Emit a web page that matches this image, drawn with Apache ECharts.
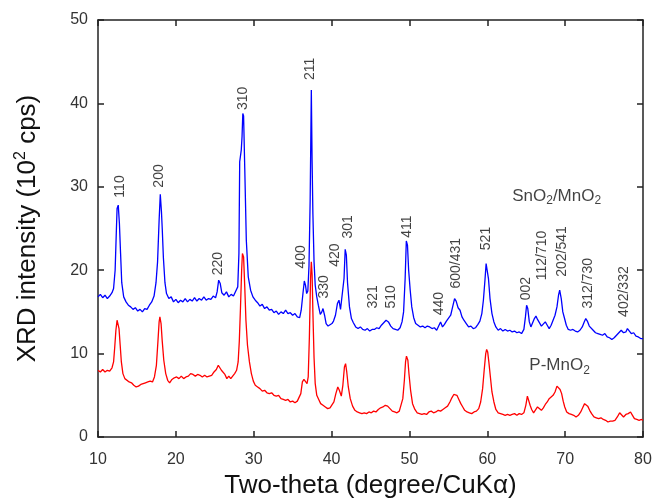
<!DOCTYPE html>
<html>
<head>
<meta charset="utf-8">
<title>XRD patterns</title>
<script src="https://cdn.jsdelivr.net/npm/echarts@6/dist/echarts.min.js"></script>
<style>
  html, body { margin: 0; padding: 0; background: #fff; }
  #chart { width: 653px; height: 500px; }
</style>
</head>
<body>
<div id="chart"></div>
<script>
// XRD 图谱数据 [2θ, 强度/10^2 cps]
const snoMnoPattern = [
  [10.0,16.8],[10.3,17.1],[10.6,16.7],[10.9,17.0],[11.2,16.6],[11.5,16.9],[11.8,17.3],[12.0,17.8],[12.2,20.0],[12.35,24.5],
  [12.45,27.4],[12.6,27.8],[12.75,25.6],[12.9,22.0],[13.05,18.5],[13.3,16.8],[13.6,16.2],[13.9,15.8],[14.2,15.6],[14.5,15.3],
  [14.8,15.5],[15.1,15.1],[15.4,15.3],[15.7,15.0],[16.0,15.4],[16.3,15.3],[16.6,15.8],[16.9,16.2],[17.2,16.9],[17.45,18.5],
  [17.65,21.0],[17.85,26.0],[18.0,29.1],[18.15,27.0],[18.25,25.0],[18.4,21.5],[18.6,18.5],[18.8,17.2],[19.1,16.6],[19.4,16.8],
  [19.7,16.2],[20.0,16.5],[20.3,16.1],[20.6,16.4],[20.9,16.2],[21.2,16.6],[21.5,16.2],[21.8,16.5],[22.1,16.3],[22.4,16.7],
  [22.7,16.3],[23.0,16.6],[23.3,16.4],[23.6,16.8],[23.9,16.4],[24.2,16.6],[24.5,16.5],[24.8,16.9],[25.1,16.7],[25.3,17.4],
  [25.5,18.8],[25.7,18.4],[25.9,17.3],[26.2,17.0],[26.5,17.4],[26.8,16.8],[27.1,17.1],[27.4,16.9],[27.7,17.5],[27.95,18.0],
  [28.1,22.0],[28.2,33.0],[28.4,34.4],[28.5,36.0],[28.6,38.8],[28.7,38.5],[28.85,32.2],[29.05,23.6],[29.3,19.2],[29.6,17.6],
  [29.9,16.8],[30.2,16.4],[30.5,16.1],[30.8,15.7],[31.1,15.9],[31.4,15.4],[31.7,15.6],[32.0,15.2],[32.3,15.3],[32.6,14.9],
  [32.9,15.1],[33.2,14.7],[33.5,15.0],[33.8,14.8],[34.1,15.2],[34.4,14.8],[34.7,14.9],[35.0,14.6],[35.3,14.8],[35.6,14.4],
  [35.9,14.3],[36.1,15.2],[36.3,17.0],[36.5,18.7],[36.65,18.2],[36.8,17.2],[36.95,17.5],[37.1,20.5],[37.25,28.4],[37.4,41.6],
  [37.5,33.0],[37.6,26.8],[37.75,21.0],[37.9,18.2],[38.1,16.8],[38.3,15.8],[38.55,14.7],[38.75,15.0],[38.9,15.4],[39.1,14.6],
  [39.3,13.6],[39.55,13.3],[39.8,13.5],[40.05,13.6],[40.25,13.9],[40.5,14.6],[40.75,16.0],[40.95,16.4],[41.15,15.3],[41.4,15.4],
  [41.6,19.0],[41.75,22.5],[41.9,21.8],[42.05,18.5],[42.3,15.6],[42.55,14.2],[42.8,13.7],[43.1,13.2],[43.4,13.0],[43.7,13.2],
  [44.0,12.9],[44.3,12.8],[44.6,13.0],[44.9,12.7],[45.2,12.9],[45.5,12.9],[45.8,13.1],[46.1,13.0],[46.4,13.4],[46.7,13.7],
  [47.0,14.0],[47.3,13.8],[47.6,13.3],[47.9,13.0],[48.2,12.9],[48.5,12.8],[48.8,13.1],[49.05,13.8],[49.25,15.0],[49.45,19.0],
  [49.6,23.5],[49.75,23.0],[49.9,20.0],[50.1,17.6],[50.3,15.6],[50.55,14.3],[50.8,13.6],[51.1,13.4],[51.4,13.2],[51.7,13.3],
  [52.0,13.1],[52.3,13.3],[52.6,13.2],[52.9,13.0],[53.2,13.1],[53.5,12.8],[53.8,13.4],[54.0,13.8],[54.25,13.2],[54.5,13.5],
  [54.75,13.9],[55.0,14.0],[55.3,14.6],[55.55,15.6],[55.8,16.6],[56.0,16.3],[56.25,15.5],[56.5,15.2],[56.75,14.4],[57.0,14.0],
  [57.3,13.6],[57.6,13.2],[57.9,13.3],[58.2,13.0],[58.5,13.1],[58.8,13.5],[59.05,13.9],[59.3,14.8],[59.5,16.4],[59.7,18.8],
  [59.85,20.8],[60.0,20.6],[60.15,19.0],[60.35,16.6],[60.6,14.8],[60.85,13.8],[61.1,13.2],[61.4,12.8],[61.7,13.0],[62.0,12.7],
  [62.3,12.9],[62.6,12.7],[62.9,12.8],[63.2,12.6],[63.5,12.7],[63.8,12.5],[64.1,12.6],[64.4,12.4],[64.7,12.9],[64.9,14.4],
  [65.05,15.8],[65.2,15.4],[65.4,13.8],[65.6,13.2],[65.85,13.4],[66.05,14.2],[66.25,14.5],[66.45,14.1],[66.7,14.0],[66.95,13.3],
  [67.2,13.5],[67.45,13.8],[67.7,13.4],[67.95,13.0],[68.2,13.4],[68.45,14.0],[68.7,14.6],[68.95,15.6],[69.15,17.0],[69.3,17.6],
  [69.5,16.6],[69.7,15.0],[69.9,14.3],[70.15,13.4],[70.4,12.9],[70.7,12.8],[71.0,12.9],[71.3,12.7],[71.6,12.6],[71.9,12.8],
  [72.2,13.2],[72.45,13.8],[72.65,14.2],[72.85,13.9],[73.1,13.3],[73.35,13.2],[73.6,12.8],[73.9,12.5],[74.2,12.4],[74.5,12.3],
  [74.8,12.2],[75.1,12.4],[75.4,12.0],[75.7,11.9],[76.0,11.7],[76.3,11.9],[76.6,12.2],[76.9,12.5],[77.2,12.8],[77.5,12.5],
  [77.8,12.6],[78.0,13.0],[78.25,12.8],[78.5,12.4],[78.8,12.5],[79.1,12.1],[79.4,12.0],[79.7,11.8],[80.0,11.8]
]

const pMnoPattern = [
  [10.0,8.0],[10.3,7.8],[10.6,8.1],[10.9,7.8],[11.2,8.0],[11.5,7.9],[11.8,8.3],[12.0,9.0],[12.15,10.8],[12.3,12.8],
  [12.45,14.0],[12.55,14.1],[12.7,13.0],[12.85,11.0],[13.0,9.0],[13.2,7.6],[13.45,7.0],[13.7,6.9],[14.0,6.6],[14.3,6.5],
  [14.6,6.2],[14.9,6.0],[15.2,6.1],[15.5,6.3],[15.8,6.4],[16.1,6.5],[16.4,6.6],[16.7,6.7],[17.0,6.6],[17.25,7.2],
  [17.5,8.6],[17.7,11.5],[17.85,13.8],[17.95,14.4],[18.1,13.6],[18.25,11.5],[18.45,9.2],[18.7,7.6],[18.95,6.8],[19.2,6.5],
  [19.5,6.9],[19.8,7.1],[20.1,7.2],[20.4,7.0],[20.7,7.3],[21.0,7.0],[21.3,7.2],[21.6,7.3],[21.9,7.6],[22.2,7.5],
  [22.5,7.3],[22.8,7.5],[23.1,7.4],[23.4,7.2],[23.7,7.4],[24.0,7.2],[24.3,7.3],[24.6,7.4],[24.9,7.8],[25.2,8.1],
  [25.45,8.6],[25.65,8.5],[25.85,8.0],[26.05,8.1],[26.3,7.5],[26.55,7.0],[26.8,7.3],[27.05,7.0],[27.3,7.2],[27.55,7.6],
  [27.8,8.0],[28.0,9.0],[28.15,11.5],[28.3,15.5],[28.45,20.0],[28.55,22.0],[28.7,21.6],[28.85,18.0],[29.0,14.0],[29.2,11.0],
  [29.45,9.0],[29.7,7.6],[29.95,6.7],[30.2,6.2],[30.5,6.0],[30.8,5.8],[31.1,5.5],[31.4,5.6],[31.7,5.3],[32.0,5.2],
  [32.3,5.3],[32.6,5.0],[32.9,4.9],[33.2,5.0],[33.5,4.6],[33.8,4.5],[34.1,4.4],[34.4,4.5],[34.7,4.2],[35.0,4.3],
  [35.3,4.1],[35.6,4.3],[35.85,4.4],[36.05,5.2],[36.25,6.6],[36.45,6.9],[36.65,7.0],[36.85,6.4],[37.0,7.2],[37.15,12.0],
  [37.3,19.0],[37.4,21.0],[37.5,19.5],[37.6,15.0],[37.75,9.5],[37.9,6.4],[38.1,5.0],[38.35,4.5],[38.6,4.0],[38.9,3.8],
  [39.2,3.6],[39.5,3.4],[39.8,3.5],[40.05,3.6],[40.3,4.2],[40.55,5.2],[40.8,6.0],[41.0,5.6],[41.25,4.9],[41.45,6.2],
  [41.65,8.4],[41.8,8.8],[41.95,7.8],[42.15,6.0],[42.4,4.6],[42.7,3.7],[43.0,3.2],[43.3,3.0],[43.6,2.9],[43.9,2.8],
  [44.2,2.9],[44.5,2.8],[44.8,3.0],[45.1,2.9],[45.4,3.1],[45.7,3.0],[46.0,3.3],[46.3,3.5],[46.6,3.6],[46.9,3.8],
  [47.2,3.7],[47.5,3.4],[47.8,3.1],[48.1,3.0],[48.4,2.9],[48.7,3.1],[48.95,3.3],[49.15,4.6],[49.35,6.8],[49.5,9.0],
  [49.62,9.7],[49.8,9.2],[49.95,7.5],[50.15,5.6],[50.4,4.0],[50.7,3.3],[51.0,2.9],[51.3,2.8],[51.6,2.7],[51.9,2.8],
  [52.2,2.7],[52.5,3.0],[52.8,3.1],[53.1,2.9],[53.4,3.0],[53.7,3.2],[54.0,3.1],[54.3,3.3],[54.6,3.5],[54.9,3.7],
  [55.2,4.2],[55.45,4.7],[55.7,5.1],[55.9,5.2],[56.1,5.0],[56.35,4.5],[56.6,4.0],[56.85,3.6],[57.1,3.2],[57.4,3.0],
  [57.7,2.9],[58.0,2.8],[58.3,3.0],[58.6,3.1],[58.9,3.4],[59.15,4.2],[59.4,5.8],[59.6,8.0],[59.8,10.0],[59.92,10.5],
  [60.05,10.2],[60.2,9.0],[60.4,7.2],[60.6,5.4],[60.85,4.2],[61.1,3.3],[61.4,2.9],[61.7,2.8],[62.0,2.7],[62.3,2.6],
  [62.6,2.7],[62.9,2.6],[63.2,2.7],[63.5,2.8],[63.8,2.6],[64.1,2.8],[64.4,2.7],[64.7,2.9],[64.95,3.8],[65.15,4.9],
  [65.3,4.8],[65.5,3.8],[65.7,3.3],[65.95,2.9],[66.2,3.1],[66.45,3.6],[66.7,3.5],[66.95,3.2],[67.2,3.5],[67.45,3.9],
  [67.7,4.2],[67.95,4.6],[68.2,4.7],[68.45,5.0],[68.7,5.4],[68.95,6.1],[69.15,6.1],[69.35,5.7],[69.55,5.2],[69.75,4.3],
  [69.95,3.6],[70.2,3.0],[70.5,2.8],[70.8,2.7],[71.1,2.6],[71.4,2.4],[71.7,2.6],[72.0,3.0],[72.25,3.5],[72.5,4.0],
  [72.7,4.1],[72.9,3.7],[73.15,3.2],[73.4,2.8],[73.7,2.4],[74.0,2.3],[74.3,2.2],[74.6,2.3],[74.9,2.1],[75.2,2.0],
  [75.5,1.8],[75.8,1.9],[76.1,1.9],[76.4,2.0],[76.7,2.4],[77.0,2.9],[77.25,2.7],[77.5,2.4],[77.8,2.7],[78.1,2.8],
  [78.4,3.0],[78.65,2.6],[78.9,2.2],[79.2,2.1],[79.5,2.0],[79.8,2.1],[80.0,2.0]
]

// 晶面指数标注
const peakNames  = ['110', '200', '220', '310', '400', '211', '330', '420', '301', '321', '510', '411', '440', '600/431', '521', '002', '112/710', '202/541', '312/730', '402/332']
const peakAngles = [12.8, 17.9, 25.4, 28.6, 36.1, 37.2, 39.1, 40.4, 42.1, 45.3, 47.7, 49.7, 53.8, 56.0, 59.9, 65.0, 67.1, 69.6, 72.9, 77.6]
const peakBase   = [28.7, 29.9, 19.4, 39.2, 20.2, 42.8, 16.6, 20.4, 23.8, 15.4, 15.4, 23.9, 14.6, 17.8, 22.4, 16.4, 18.8, 19.2, 15.4, 14.4]

// 样品名称
const sampleNames = ['SnO{sub|2}/MnO{sub|2}', 'P-MnO{sub|2}']
const sampleAt    = [[63.2, 28.9], [65.4, 8.6]]

const xTicks = [10, 20, 30, 40, 50, 60, 70, 80]
const yTicks = [0, 10, 20, 30, 40, 50]

const font = '"Liberation Sans", Arial, sans-serif'
const axisColor = '#222'

const myChart = echarts.init(document.getElementById('chart'))

function boxAxis(isX, pos, show) {
  const ticks = isX ? xTicks : yTicks
  return {
    type: 'value',
    position: pos,
    min: ticks[0],
    max: ticks[ticks.length - 1],
    interval: ticks[1] - ticks[0],
    axisLine: { show: true, onZero: false, lineStyle: { color: axisColor, width: 1.5 } },
    axisTick: { show: true, inside: true, length: 6, lineStyle: { color: axisColor, width: 1.5 } },
    axisLabel: {
      show: show,
      color: '#333',
      fontFamily: font,
      fontSize: 16,
      margin: isX ? 15 : 10
    },
    splitLine: { show: false }
  }
}

const xBottom = Object.assign(boxAxis(true, 'bottom', true), {
  name: 'Two-theta (degree/CuK\u03b1)',
  nameLocation: 'middle',
  nameGap: 36,
  nameTextStyle: { fontFamily: font, fontSize: 26, color: '#111' }
})
const yLeft = Object.assign(boxAxis(false, 'left', true), {
  name: 'XRD intensity (10{sup|2} cps)',
  nameLocation: 'middle',
  nameRotate: 90,
  nameGap: 55,
  nameTextStyle: {
    fontFamily: font, fontSize: 26, color: '#111',
    rich: { sup: { fontFamily: font, fontSize: 16, color: '#111', padding: [0, 0, 14, 0] } }
  }
})

const option = {
  animation: false,
  backgroundColor: '#fff',
  grid: { left: 98, right: 10, top: 20, bottom: 63, outerBoundsMode: 'none' },
  xAxis: [xBottom, boxAxis(true, 'top', false)],
  yAxis: [yLeft, boxAxis(false, 'right', false)],
  series: [
    {
      name: 'SnO2/MnO2',
      type: 'line',
      data: snoMnoPattern,
      showSymbol: false,
      silent: true,
      lineStyle: { color: '#0000ff', width: 1.3 },
      z: 2
    },
    {
      name: 'P-MnO2',
      type: 'line',
      data: pMnoPattern,
      showSymbol: false,
      silent: true,
      lineStyle: { color: '#ff0000', width: 1.3 },
      z: 3
    },
    {
      type: 'scatter',
      silent: true,
      symbolSize: 0,
      data: peakNames.map((n, i) => ({ name: n, value: [peakAngles[i], peakBase[i]] })),
      label: {
        show: true,
        position: [0, 0],
        rotate: 90,
        align: 'left',
        verticalAlign: 'middle',
        formatter: '{b}',
        fontFamily: font,
        fontSize: 14,
        color: '#111'
      },
      z: 4
    },
    {
      type: 'scatter',
      silent: true,
      symbolSize: 0,
      data: sampleNames.map((n, i) => ({ name: n, value: sampleAt[i] })),
      label: {
        show: true,
        position: [0, 0],
        align: 'left',
        verticalAlign: 'middle',
        formatter: '{b}',
        fontFamily: font,
        fontSize: 17,
        color: '#111',
        rich: { sub: { fontFamily: font, fontSize: 12, color: '#111', padding: [10, 0, 0, 0] } }
      },
      z: 4
    }
  ]
}

myChart.setOption(option)
</script>
</body>
</html>
